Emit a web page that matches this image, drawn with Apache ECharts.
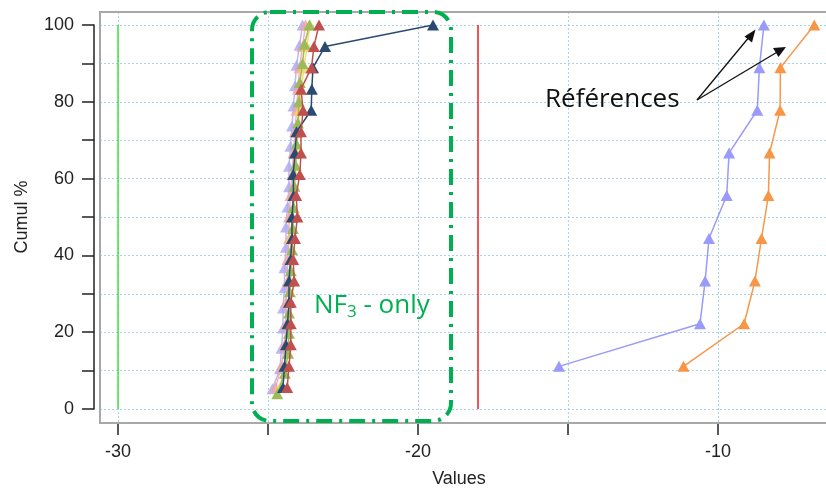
<!DOCTYPE html>
<html>
<head>
<meta charset="utf-8">
<script src="https://cdn.jsdelivr.net/npm/echarts@6/dist/echarts.min.js"></script>
<style>
html,body{margin:0;padding:0;background:#fff;}
#c{width:826px;height:491px;}
</style>
</head>
<body>
<div id="c"></div>
<script>
// ---------- data ----------
const xTickLabels = ['-30', '-20', '-10'];
const yTickLabels = ['0', '20', '40', '60', '80', '100'];

// reference series (9 points each)
const refY = [11.1, 22.2, 33.3, 44.4, 55.6, 66.7, 77.8, 88.9, 100];
const refPurpleX = [-15.3, -10.6, -10.43, -10.3, -9.71, -9.63, -8.69, -8.62, -8.47];
const refOrangeX = [-11.15, -9.13, -8.77, -8.55, -8.32, -8.28, -7.93, -7.92, -6.79];

// NF3-only cluster series
const y18 = [5.6, 11.1, 16.7, 22.2, 27.8, 33.3, 38.9, 44.4, 50.0, 55.6, 61.1, 66.7, 72.2, 77.8, 83.3, 88.9, 94.4, 100];
const y19 = [5.3, 10.5, 15.8, 21.1, 26.3, 31.6, 36.8, 42.1, 47.4, 52.6, 57.9, 63.2, 68.4, 73.7, 78.9, 84.2, 89.5, 94.7, 100];
const yGreen = [4.0, 9.3, 14.5, 19.7, 25.0, 30.5, 36.0, 41.5, 47.0, 52.5, 58.0, 63.5, 69.0, 74.5, 80.0, 85.0, 90.0, 95.0, 100];

const lavenderX = [-24.85, -24.6, -24.55, -24.5, -24.5, -24.45, -24.45, -24.4, -24.4, -24.35, -24.3, -24.3, -24.25, -24.2, -24.15, -24.1, -24.05, -23.95, -23.85];
const pinkX = [-24.75, -24.55, -24.45, -24.4, -24.4, -24.35, -24.35, -24.3, -24.3, -24.25, -24.2, -24.15, -24.1, -24.05, -24.0, -23.95, -23.85, -23.75];
const yellowX = [-24.6, -24.45, -24.4, -24.35, -24.3, -24.3, -24.25, -24.25, -24.2, -24.15, -24.1, -24.05, -24.0, -23.95, -23.9, -23.8, -23.7, -23.6];
const greenX = [-24.69, -24.44, -24.33, -24.3, -24.3, -24.27, -24.24, -24.2, -24.17, -24.15, -24.12, -24.08, -24.05, -24.0, -23.97, -23.94, -23.85, -23.78, -23.62];
const navyX = [-24.5, -24.45, -24.4, -24.35, -24.3, -24.3, -24.25, -24.2, -24.2, -24.15, -24.16, -24.1, -24.05, -23.56, -23.54, -23.5, -23.1, -19.5];
const redX = [-24.36, -24.3, -24.24, -24.24, -24.24, -24.13, -24.16, -24.1, -24.02, -24.06, -23.94, -23.9, -23.9, -23.83, -23.9, -23.55, -23.47, -23.3];

// vertical limit lines
const greenLimit = -30;
const redLimit = -18;
const limitSpan = [0, 100];

// ---------- chart ----------
const zip = (xs, ys) => xs.map((x, i) => [x, ys[i]]);
const FONT = '"Liberation Sans", Arial, sans-serif';

function tri(name, xs, ys, color, z, opacity) {
  return {
    name, type: 'line', xAxisIndex: 0, yAxisIndex: 0,
    data: zip(xs, ys),
    symbol: 'triangle', symbolSize: [12, 11],
    itemStyle: { color: color, opacity: opacity },
    lineStyle: { color: color, width: 1.5, opacity: opacity },
    z: z, animation: false, silent: true
  };
}
function vline(name, x, color) {
  return {
    name, type: 'line', xAxisIndex: 0, yAxisIndex: 0,
    data: [[x, limitSpan[0]], [x, limitSpan[1]]],
    symbol: 'none', lineStyle: { color: color, width: 1.5 },
    z: 1, animation: false, silent: true
  };
}

const chart = echarts.init(document.getElementById('c'), null, { renderer: 'canvas' });

const gridLine = { show: true, lineStyle: { color: '#a9d3e6', type: [2, 2], width: 1 } };

chart.setOption({
  animation: false,
  backgroundColor: '#ffffff',
  grid: [
    // data / plot box
    { left: 100, right: -12, top: 12, bottom: 68, show: true, borderColor: '#a8a8a8', borderWidth: 2,
      backgroundColor: 'transparent', z: 3, containLabel: false, outerBoundsMode: 'none' },
    // x axis display
    { left: 118, right: -12, top: 12, bottom: 68, containLabel: false, outerBoundsMode: 'none' },
    // y axis display
    { left: 100, right: -12, top: 25, bottom: 82, containLabel: false, outerBoundsMode: 'none' }
  ],
  xAxis: [
    { gridIndex: 0, type: 'value', min: -30.6, max: -6, show: false },
    { gridIndex: 1, type: 'value', min: -30, max: -6, interval: 5, offset: 6, position: 'bottom',
      axisLine: { show: true, lineStyle: { color: '#222', width: 1.5 } },
      axisTick: { show: true, length: 12, lineStyle: { color: '#222', width: 1.5 } },
      axisLabel: { interval: 1, margin: 14, color: '#222', fontFamily: FONT, fontSize: 18,
        formatter: v => { const s = String(Math.round(v)); return xTickLabels.indexOf(s) >= 0 ? s : ''; } },
      splitLine: gridLine },
    { gridIndex: 2, type: 'value', min: -30, max: -6, show: false }
  ],
  yAxis: [
    { gridIndex: 0, type: 'value', min: -3.65, max: 103.39, show: false },
    { gridIndex: 1, type: 'value', min: 0, max: 100, show: false },
    { gridIndex: 2, type: 'value', min: 0, max: 100, interval: 10, offset: 6, position: 'left',
      axisLine: { show: true, lineStyle: { color: '#222', width: 1.5 } },
      axisTick: { show: true, length: 12, lineStyle: { color: '#222', width: 1.5 } },
      axisLabel: { margin: 20, color: '#222', fontFamily: FONT, fontSize: 18,
        formatter: v => { const s = String(Math.round(v)); return yTickLabels.indexOf(s) >= 0 ? s : ''; } },
      splitLine: gridLine }
  ],
  series: [
    vline('green limit', greenLimit, '#3ce63c'),
    vline('red limit', redLimit, '#ee1c1c'),
    tri('lavender', lavenderX, y19, '#b2aaf2', 4, 0.85),
    tri('pink', pinkX, y18, '#f2a4a4', 5, 0.85),
    tri('yellow', yellowX, y18, '#f7d569', 6, 0.9),
    tri('green', greenX, yGreen, '#9bbb59', 7, 1),
    tri('navy', navyX, y18, '#2a4a72', 8, 1),
    tri('red', redX, y18, '#c0504d', 9, 1),
    tri('ref purple', refPurpleX, refY, '#9a9afa', 6, 1),
    tri('ref orange', refOrangeX, refY, '#f79646', 6, 1)
  ],
  graphic: [
    { type: 'text', x: 459, y: 479, z: 10,
      style: { text: 'Values', font: '18px ' + FONT, fill: '#222', align: 'center', verticalAlign: 'middle' } },
    { type: 'text', x: 22, y: 217, rotation: Math.PI / 2, z: 10,
      style: { text: 'Cumul %', font: '18px ' + FONT, fill: '#222', align: 'center', verticalAlign: 'middle' } },
    { type: 'rect', z: 20, shape: { x: 252, y: 12, width: 199, height: 409, r: 18 },
      style: { fill: null, stroke: '#00b050', lineWidth: 4, lineDash: [16, 7, 3, 7] } },
    { type: 'text', x: 314, y: 306, z: 20,
      style: { text: '{a|NF}{b|3}{a| - only}', verticalAlign: 'middle',
        rich: { a: { font: '26px "Open Sans", sans-serif', fill: '#00b050', lineHeight: 30 },
                b: { font: '17px "Open Sans", sans-serif', fill: '#00b050', lineHeight: 30, verticalAlign: 'bottom' } } } },
    { type: 'text', x: 545, y: 100, z: 20,
      style: { text: 'Références', font: '26px "Open Sans", sans-serif', fill: '#111', align: 'left', verticalAlign: 'middle' } },
    { type: 'line', z: 20, shape: { x1: 697, y1: 100, x2: 750, y2: 36 }, style: { stroke: '#111', lineWidth: 1.3 } },
    { type: 'polygon', z: 20, shape: { points: [[755.5, 29.5], [744.5, 36.5], [752, 42.5]] }, style: { fill: '#111' } },
    { type: 'line', z: 20, shape: { x1: 697, y1: 100, x2: 779, y2: 51 }, style: { stroke: '#111', lineWidth: 1.3 } },
    { type: 'polygon', z: 20, shape: { points: [[786, 47], [773, 48], [778.5, 57]] }, style: { fill: '#111' } }
  ]
});
</script>
</body>
</html>
